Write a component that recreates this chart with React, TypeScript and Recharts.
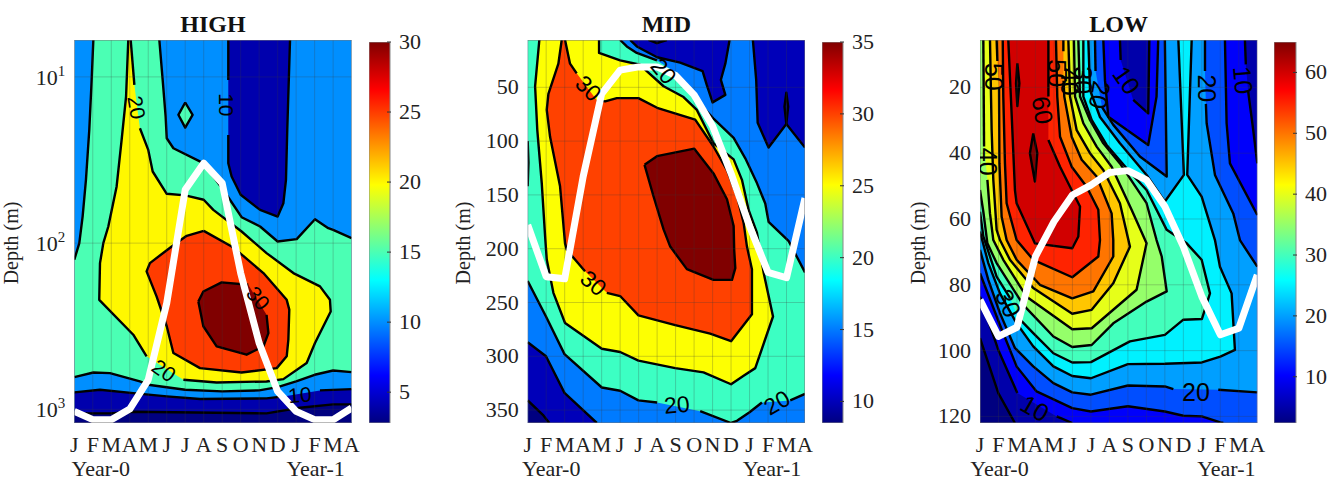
import React from 'react';
import { ScatterChart, Scatter, XAxis, YAxis, ComposedChart, Bar } from 'recharts';

type Pt = [number, number] | null;

const MONTHS = ['J', 'F', 'M', 'A', 'M', 'J', 'J', 'A', 'S', 'O', 'N', 'D', 'J', 'F', 'M', 'A'];
const MONTH_TICKS = MONTHS.map((_, i) => i);

// HIGH panel: second number is log10(depth)
const HIGH_TOP = 0.778;
const HIGH_BOTTOM = 3.082;
const HIGH_TICKS = [10, 100, 1000];
const HIGH_BAR_TICKS = [5, 10, 15, 20, 25, 30];
const HIGH_MLD: Pt[] = [[0, 3.012], [1, 3.062], [2, 3.062], [3, 2.998], [4, 2.822], [5, 2.361], [6, 1.679], [7, 1.519], [8, 1.639], [9, 2.18], [10, 2.601], [11, 2.892], [12, 3.012], [13, 3.062], [14, 3.062], [15, 2.992]];
const HIGH_10_TOP: Pt[] = [[8.33, 0.778], [8.33, 1.018], null, [8.33, 1.349], [8.33, 1.519], [8.51, 1.599], [9, 1.709], [10.05, 1.8], [11, 1.84], [11.31, 1.76], [11.45, 1.619], [11.52, 1.319], [11.67, 0.778]];
const HIGH_15: Pt[] = [[1.03, 0.778], [0.94, 1.018], [0.81, 1.319], [0.63, 1.619], [0.45, 1.84], [0.27, 2.0], [0, 2.1], [0, 2.806], [1.03, 2.778], [1.93, 2.782], [3.55, 2.832], [4, 2.852], [6, 2.882], [8, 2.892], [10, 2.886], [11, 2.866], [12, 2.832], [13, 2.792], [14, 2.766], [15, 2.776], [15, 1.97], [14, 1.92], [13.74, 1.91], [13.02, 1.856], [12.03, 1.976], [11, 1.99], [10.05, 1.9], [9.05, 1.844], [8.42, 1.739], [8.06, 1.679], [6.98, 1.519], [5.36, 1.429], [5, 1.369], [4.94, 1.238], [4.78, 1.018], [4.6, 0.778]];
const HIGH_15_DIAMOND: Pt[] = [[6, 1.154], [6.4, 1.228], [6, 1.305], [5.63, 1.228], [6, 1.154]];
const HIGH_20: Pt[] = [[2.92, 0.778], [2.8, 1.118], [2.56, 1.379], [2.29, 1.659], [1.84, 1.9], [1.57, 2.0], [1.39, 2.12], [1.35, 2.341], [3.19, 2.551], [3.91, 2.681], null, [5.9, 2.822], [7.7, 2.838], [10.4, 2.832], [11.31, 2.818], [12.57, 2.721], [13.02, 2.601], [13.87, 2.411], [13.83, 2.341], [13.29, 2.26], [11.85, 2.18], [10.4, 2.06], [9.05, 1.93], [7.52, 1.8], [7, 1.739], [6, 1.713], [5, 1.703], [4.24, 1.569], [4, 1.439], [3.55, 1.309], null, [3.25, 1.048], [3.05, 0.778]];
const HIGH_25: Pt[] = [[7, 1.926], [6.08, 1.956], [5.27, 2.02], [4.09, 2.12], [3.91, 2.17], [4.45, 2.32], [5, 2.5], [5.36, 2.661], [6.8, 2.752], [9.05, 2.778], [10.95, 2.752], [11.49, 2.681], [11.58, 2.581], [11.63, 2.4], [11.49, 2.341], [10.23, 2.18], [8.96, 2.06], [8.51, 2.02], [7, 1.926]];
const HIGH_30: Pt[] = [[6.71, 2.351], [6.98, 2.291], [7.97, 2.236], [9.41, 2.25], null, [10.4, 2.431], [10.5, 2.541], [10.23, 2.621], [9.32, 2.671], [7.7, 2.621], [6.98, 2.5], [6.71, 2.351]];
const HIGH_10_DEEP: Pt[] = [[0, 3.082], [0, 2.898], [1.39, 2.882], [3.19, 2.902], [5, 2.922], [6.8, 2.938], [10.4, 2.934], [11.31, 2.922], null, [13.29, 2.886], [15, 2.878], [15, 3.082]];
const HIGH_5_DEEP: Pt[] = [[0, 3.082], [0, 3.024], [1.93, 3.024], [3.19, 3.014], [10.4, 3.024], [12.2, 2.99], [14, 2.97], [15, 2.97], [15, 3.082]];
const HIGH_LABELS = [
  { m: 3.37, v: 1.184, text: '20', angle: 80 },
  { m: 8.24, v: 1.168, text: '10', angle: 90 },
  { m: 9.95, v: 2.331, text: '30', angle: 50 },
  { m: 4.85, v: 2.766, text: '20', angle: 35 },
  { m: 12.2, v: 2.912, text: '10', angle: -5 },
];

// MID panel: second number is depth in metres
const MID_TOP = 6;
const MID_BOTTOM = 362;
const MID_TICKS = [50, 100, 150, 200, 250, 300, 350];
const MID_BAR_TICKS = [10, 15, 20, 25, 30, 35];
const MID_MLD: Pt[] = [[0, 178], [1, 226], [2, 228], [3, 133], [4, 56], [5, 34], [6, 31], [7, 31], [8, 39], [9, 57], [10, 86], [11, 130], [12, 179], [13, 222], [14, 227], [15, 153]];
const MID_15_TOP: Pt[] = [[5.54, 6], [5.9, 12], [7, 22], [8.25, 27], [9.46, 35], [9.69, 48], [10, 64], [10.69, 57], [10.45, 43], [10.69, 28], [10.92, 6]];
const MID_15_RIGHT: Pt[] = [[12.18, 6], [12.36, 43], [12.44, 83], [13.03, 106], [13.99, 84], [15, 106], [15, 6]];
const MID_10_SLIVER: Pt[] = [[13.99, 84], [13.89, 68], [13.99, 55], [14.09, 68], [13.99, 84]];
const MID_10_TOP: Pt[] = [[6.53, 6], [6.99, 9], [7.53, 6]];
const MID_20: Pt[] = [[0, 6], [0, 230], [0.99, 263], [1.99, 298], [4.01, 329], [5, 332], [5.99, 341], [7, 343], null, [9.33, 351], [11, 362], [11.32, 360], [12, 352], [12.67, 343], null, [14.2, 341], [15, 335], [15, 222], [14.12, 193], [13.03, 175], [12.85, 158], [12.4, 139], [11.77, 116], [11.14, 97], [10.05, 79], [8.97, 59], [8.07, 37], null, [6.99, 25], [5.9, 18], [5.36, 12], [5, 6]];
const MID_20_EDGE: Pt[] = [[0, 100], [0.04, 120], [0, 142]];
const MID_25: Pt[] = [[0.63, 6], [0.4, 49], [0.52, 90], [0.76, 139], [0.94, 188], [1.03, 210], [1.39, 241], [2.02, 269], [4.01, 293], [5, 296], [5.99, 304], [7.98, 311], [9.51, 315], [11, 326], [11.68, 318], [12.31, 311], [13.27, 263], [12.76, 222], [12.4, 185], [11.95, 164], [11.59, 136], [11.14, 117], [10.05, 102], [9.15, 71], [8.43, 59], [7.35, 49], [6.44, 35], [6.08, 29], [5, 25], [3.86, 18], [3.86, 6]];
const MID_30: Pt[] = [[1.84, 6], [1.66, 28], [1.12, 56], [1.03, 71], [1.21, 96], [1.75, 142], [2.02, 195], [2.11, 201], [3.1, 221], null, [4.28, 241], [5, 244], [5.99, 262], [7.98, 271], [9.87, 279], [11, 286], [12.13, 261], [12.13, 219], [11.86, 198], [11.68, 176], [11.32, 151], [10.78, 127], [10.05, 105], [9.06, 80], [7, 69], [5.99, 60], [4.82, 60], [4.19, 63], [3.74, 62], null, [2.65, 37], [2.29, 28], [2.02, 6]];
const MID_35: Pt[] = [[6.32, 122], [6.99, 114], [9.01, 107], [10.05, 130], [10.78, 154], [11.14, 179], [11.17, 201], [11.23, 218], [11.05, 229], [10.05, 229], [8.61, 219], [7.71, 198], [7.35, 182], [6.8, 151], [6.32, 122]];
const MID_15_DEEP: Pt[] = [[0, 362], [0, 287], [0.99, 300], [1.99, 334], [3.74, 362]];
const MID_10_DEEP: Pt[] = [[0, 362], [0, 341], [0.85, 355], [1.17, 362]];
const MID_LABELS = [
  { m: 3.29, v: 51, text: '30', angle: 45 },
  { m: 3.56, v: 232, text: '30', angle: 40 },
  { m: 8.07, v: 345, text: '20', angle: -5 },
  { m: 13.48, v: 343, text: '20', angle: -30 },
  { m: 7.35, v: 35, text: '20', angle: 50 },
];

// LOW panel: second number is depth in metres
const LOW_TOP = 5.6;
const LOW_BOTTOM = 122;
const LOW_TICKS = [20, 40, 60, 80, 100, 120];
const LOW_BAR_TICKS = [10, 20, 30, 40, 50, 60];
const LOW_MLD: Pt[] = [[0, 84.6], [1, 95.7], [2, 92.9], [3, 71.4], [4, 60.8], [5, 52.7], [6, 49.7], [7, 45.9], [8, 45.3], [9, 48.1], [10, 56.2], [11, 68.4], [12, 83.6], [13, 95.2], [14, 93.2], [15, 77]];
const LOW_5: Pt[] = [[0, 96.2], [0.99, 112.9], [1.89, 122], [0, 122]];
const LOW_10: Pt[] = [[0, 5.6], [0, 83.6], [0.99, 99.8], [2.02, 112.9], null, [4.15, 120], [4.99, 122], [15, 122], [15, 43.1], [14.78, 33], [14.5, 21], null, [14.38, 13], [14.33, 5.6], [9.16, 5.6], [9.1, 27.9], [8.29, 23.8], null, [7.61, 11.7], [7.57, 5.6]];
const LOW_15: Pt[] = [[0, 5.6], [0, 76.5], [1.08, 92.2], [1.98, 104.8], [3.06, 112.4], [4.99, 117.5], [6, 118.5], [8, 116.9], [10, 118.5], [11, 119.8], [12, 120], [13, 121.8], [13.16, 122], [15, 122], [15, 58.8], [13.52, 43.1], [13.34, 30.9], [13.25, 5.6], [9.64, 5.6], [9.55, 22.8], [9.1, 37.5], [6.94, 28.9], [6.76, 17.8], [6.67, 5.6]];
const LOW_20: Pt[] = [[0, 5.6], [0, 69.4], [0.45, 78.5], [1.08, 88.6], [1.89, 99.2], [2.88, 104.8], [3.97, 109.9], [4.99, 112.7], [6, 113.4], [8, 110.6], [10, 110.9], [10.46, 111.7], null, [12.89, 111.9], [15, 112.7], [15, 74.5], [14.06, 66.4], [13.7, 58.3], [12.71, 46.6], [12.26, 30.9], [12.22, 25], null, [12.17, 15], [12.17, 5.6], [10, 5.6], [10.1, 47.1], [8.65, 41], [7.21, 31.4], [6.6, 26], null, [6.25, 15], [6.22, 5.6]];
const LOW_25: Pt[] = [[0, 5.6], [0, 63.8], [0.45, 73.4], [1.08, 82.6], [1.98, 91.7], [2.88, 98.7], [3.97, 104.8], [4.99, 107.7], [6, 108.4], [8, 104.1], [10, 104], [12, 103.6], [13, 101.8], [13.79, 99.8], [13.61, 82.6], [12.98, 74.5], [12.71, 66.4], [11.99, 53.2], [11.21, 46.6], [11.45, 5.6], [10.73, 5.6], [11.03, 46.6], [10, 54.7], [9.01, 46.6], [7.57, 37], [6.49, 29], [5.95, 20.8], [5.86, 5.6]];
const LOW_30: Pt[] = [[0, 5.6], [0, 57.8], [0.18, 65.3], [0.9, 77.5], [1.62, 84], null, [2.07, 90], [2.88, 94.7], [3.97, 100.8], [4.99, 103.6], [6, 103.5], [8.11, 97.2], [10, 95.2], [11, 90.6], [12, 90.4], [12.44, 82.6], [11.99, 72.4], [11.18, 67.4], [10.1, 63.3], [9.01, 51.2], [7.93, 44.6], [6.85, 37.5], [6.04, 29.9], [5.59, 22.8], [5.59, 5.6]];
const LOW_35: Pt[] = [[0, 5.6], [0, 51.2], [0.18, 57.8], [0.4, 67.4], [0.9, 73.4], [2.34, 86.1], [3.97, 95.7], [4.99, 98.9], [6.04, 98.3], [7.21, 91.7], [9.01, 85.1], [10.1, 82], [9.83, 71.4], [9.55, 66.4], [9.01, 55.2], [7.57, 43.1], [6.67, 37], [5.95, 29.9], [5.41, 22.8], [5.32, 5.6]];
const LOW_40: Pt[] = [[0.18, 5.6], [0.22, 38], null, [0.4, 48.1], [0.54, 58.3], [0.72, 66.4], [1.26, 72.4], [2.52, 83.6], [4.99, 93.5], [6.04, 93.2], [8.47, 81.5], [9.01, 67.4], [8.2, 57.2], [7.12, 44.1], [6.31, 38], [5.59, 30.9], [5.14, 22.8], [5.08, 5.6]];
const LOW_45: Pt[] = [[0.54, 5.6], [0.63, 33], [0.72, 48.1], [0.9, 63.3], [1.08, 66.4], [1.62, 72.4], [2.88, 81], [4.99, 88.8], [6.04, 87.6], [7.21, 79.5], [8.11, 68.4], [7.57, 55.2], [6.67, 45.1], [5.95, 40], [5.23, 33], [4.87, 22.8], [4.78, 5.6]];
const LOW_50: Pt[] = [[0.9, 5.6], [0.94, 12], null, [1.03, 20], [1.05, 43.1], [1.17, 59.3], [1.44, 66.4], [1.98, 72.4], [3.24, 80], [4.99, 84.1], [6.13, 82], [7.21, 71.4], [7.21, 66.4], [7.12, 58.3], [6.31, 47.1], [5.5, 42], [4.96, 35], [4.56, 22.8], [4.52, 18], null, [4.51, 9], [4.51, 5.6]];
const LOW_55: Pt[] = [[1.23, 5.6], [1.26, 22.8], [1.35, 43.1], [1.44, 55.2], [1.98, 66.4], [2.88, 72.4], [4.99, 77.7], [6.4, 71.4], [6.49, 66.4], [6.4, 57.2], [5.77, 50.2], [4.96, 44.1], [4.33, 35], [4.18, 22.8], [4.11, 5.6]];
const LOW_60: Pt[] = [[1.53, 5.6], [1.71, 27.9], [1.89, 51.2], [1.98, 55.2], [2.97, 67.4], [4.99, 68.9], [5.32, 65.3], [5.41, 56.2], [4.87, 50.2], [4.33, 44.1], [3.7, 36], null, [3.7, 22.8], [3.7, 5.6]];
const LOW_65_A: Pt[] = [[2.02, 12.7], [1.95, 18.8], [2.02, 25.7], [2.13, 18.8], [2.02, 12.7]];
const LOW_65_B: Pt[] = [[2.88, 34], [2.7, 40], [2.97, 48.6], [3.1, 40], [2.88, 34]];
const LOW_LABELS = [
  { m: 0.78, v: 16.8, text: '50', angle: 90 },
  { m: 0.45, v: 42.6, text: '40', angle: 90 },
  { m: 3.39, v: 26.9, text: '60', angle: 80 },
  { m: 4.15, v: 15.7, text: '50', angle: 90 },
  { m: 4.87, v: 18.3, text: '40', angle: 90 },
  { m: 5.55, v: 17.8, text: '30', angle: 90 },
  { m: 6.49, v: 22.3, text: '20', angle: 100 },
  { m: 7.93, v: 17.8, text: '10', angle: 55 },
  { m: 12.26, v: 20.3, text: '20', angle: 90 },
  { m: 14.24, v: 17.8, text: '10', angle: 85 },
  { m: 1.53, v: 85.6, text: '30', angle: 65 },
  { m: 2.97, v: 117.5, text: '10', angle: 30 },
  { m: 11.68, v: 112.7, text: '20', angle: 0 },
];

const PLOT_WIDTH = 277.3;
const PLOT_TOP = 40;
const PLOT_BOTTOM = 423;
const SERIF = '"Liberation Serif", serif';
const SANS = '"Liberation Sans", sans-serif';

const jet = (f: number) => {
  const ch = (v: number) => Math.round(Math.max(0, Math.min(1, v)) * 255);
  return `rgb(${ch(Math.min(4 * f - 1.5, 4.5 - 4 * f))},${ch(Math.min(4 * f - 0.5, 3.5 - 4 * f))},${ch(Math.min(4 * f + 0.5, 2.5 - 4 * f))})`;
};

const JET_STOPS = [0, 0.125, 0.375, 0.625, 0.875, 1];

const PANELS = [
  {
    id: 'high', title: 'HIGH', chartLeft: 0, plotLeft: 74.3, depthX: 18, log: true,
    top: HIGH_TOP, bottom: HIGH_BOTTOM, ticks: HIGH_TICKS, mld: HIGH_MLD, labels: HIGH_LABELS, labelSize: 21,
    yearDx: [8, 1], barLeft: 369, barWidth: 21, barMin: 2.8, barMax: 30, barTicks: HIGH_BAR_TICKS, baseLevel: 10,
    rings: [
      [4, HIGH_10_TOP], [15, HIGH_15], [15, HIGH_15_DIAMOND], [20, HIGH_20], [25, HIGH_25], [30, HIGH_30],
      [4, HIGH_10_DEEP], [2.8, HIGH_5_DEEP],
    ],
  },
  {
    id: 'mid', title: 'MID', chartLeft: 452, plotLeft: 527.7, depthX: 470, log: false,
    top: MID_TOP, bottom: MID_BOTTOM, ticks: MID_TICKS, mld: MID_MLD, labels: MID_LABELS, labelSize: 23,
    yearDx: [5, 4], barLeft: 821.7, barWidth: 21, barMin: 8.5, barMax: 35, barTicks: MID_BAR_TICKS, baseLevel: 15,
    rings: [
      [10, MID_15_TOP], [10, MID_15_RIGHT], [8.5, MID_10_SLIVER], [8.5, MID_10_TOP], [20, MID_20], [15, MID_20_EDGE],
      [25, MID_25], [30, MID_30], [35, MID_35], [10, MID_15_DEEP], [8.5, MID_10_DEEP],
    ],
  },
  {
    id: 'low', title: 'LOW', chartLeft: 905, plotLeft: 980, depthX: 925, log: false,
    top: LOW_TOP, bottom: LOW_BOTTOM, ticks: LOW_TICKS, mld: LOW_MLD, labels: LOW_LABELS, labelSize: 25,
    yearDx: [1, 6], barLeft: 1274.3, barWidth: 22, barMin: 2.4, barMax: 65, barTicks: LOW_BAR_TICKS, baseLevel: 5,
    rings: [
      [2.4, LOW_5], [10, LOW_10], [15, LOW_15], [20, LOW_20], [25, LOW_25], [30, LOW_30], [35, LOW_35], [40, LOW_40],
      [45, LOW_45], [50, LOW_50], [55, LOW_55], [60, LOW_60], [65, LOW_65_A], [65, LOW_65_B],
    ],
  },
];

const noDot = () => <g />;

const fillPath = (fill: string) => (props: any) => (
  <path d={`M${props.points.map((p: any) => `${p.x},${p.y}`).join('L')}Z`} fill={fill} stroke="none" />
);

const strokePath = (stroke: string, width: number) => (props: any) => (
  <path
    d={`M${props.points.map((p: any) => `${p.x},${p.y}`).join('L')}`}
    fill="none"
    stroke={stroke}
    strokeWidth={width}
    strokeLinejoin="round"
  />
);

// pen lifts at nulls and along the frame of the plot
const splitStrokes = (ring: Pt[], top: number, bottom: number) => {
  const onSame = (a: [number, number], b: [number, number]) =>
    (a[0] === b[0] && (a[0] === 0 || a[0] === 15)) || (a[1] === b[1] && (a[1] === top || a[1] === bottom));
  const parts: [number, number][][] = [];
  let cur: [number, number][] = [];
  ring.forEach((p) => {
    if (!p) {
      if (cur.length > 1) parts.push(cur);
      cur = [];
      return;
    }
    if (cur.length && onSame(cur[cur.length - 1], p)) {
      if (cur.length > 1) parts.push(cur);
      cur = [];
    }
    cur.push(p);
  });
  if (cur.length > 1) parts.push(cur);
  return parts;
};

function MonthTick({ x, payload, dx }: any) {
  const i = payload.value;
  return (
    <g fontFamily={SERIF} fontSize={22} fill="#222">
      <text x={x} y={PLOT_BOTTOM + 29} textAnchor="middle">{MONTHS[i]}</text>
      {i === 1 && <text x={x + dx[0]} y={PLOT_BOTTOM + 53} textAnchor="middle">Year-0</text>}
      {i === 13 && <text x={x + dx[1]} y={PLOT_BOTTOM + 53} textAnchor="middle">Year-1</text>}
    </g>
  );
}

function DepthTick({ x, y, payload, log }: any) {
  if (log) {
    return (
      <text x={x} y={y + 8} textAnchor="end" fontFamily={SERIF} fontSize={22} fill="#222">
        10<tspan dy={-9} fontSize={15}>{Math.round(Math.log10(payload.value))}</tspan>
      </text>
    );
  }
  return (
    <text x={x} y={y + 7} textAnchor="end" fontFamily={SERIF} fontSize={22} fill="#222">{payload.value}</text>
  );
}

function BarTick({ x, y, payload }: any) {
  return (
    <g>
      <line x1={x - 12} x2={x - 8} y1={y} y2={y} stroke="#333" strokeWidth={1} />
      <text x={x} y={y + 7} fontFamily={SERIF} fontSize={22} fill="#222">{payload.value}</text>
    </g>
  );
}

function Panel({ p }: { p: (typeof PANELS)[number] }) {
  const toDepth = (v: number) => (p.log ? 10 ** v : v);
  const rows = (pts: Pt[]) =>
    pts.filter(Boolean).map((q: any) => ({ x: q[0], y: toDepth(q[1]) }));
  const color = (level: number) => jet((level - p.barMin) / (p.barMax - p.barMin));
  const corners: Pt[] = [[0, p.top], [15, p.top], [15, p.bottom], [0, p.bottom], [0, p.top]];
  const gridY: Pt[][] = p.ticks.map((t) => [[0, p.log ? Math.log10(t) : t], [15, p.log ? Math.log10(t) : t]]);
  const gridX: Pt[][] = MONTH_TICKS.slice(1, -1).map((m) => [[m, p.top], [m, p.bottom]]);
  const rings = p.rings as [number, Pt[]][];
  const labelRows = p.labels.map((l) => ({ x: l.m, y: toDepth(l.v), text: l.text, angle: l.angle }));

  return (
    <>
      <div style={{ position: 'absolute', left: p.chartLeft, top: 0 }}>
        <ScatterChart
          width={p.plotLeft - p.chartLeft + PLOT_WIDTH + 30}
          height={482}
          margin={{ left: 0, right: 30, top: PLOT_TOP, bottom: 0 }}
        >
          <XAxis
            type="number"
            dataKey="x"
            domain={[0, 15]}
            allowDataOverflow
            ticks={MONTH_TICKS}
            interval={0}
            axisLine={false}
            tickLine={false}
            height={482 - PLOT_BOTTOM}
            tick={(t: any) => <MonthTick {...t} dx={p.yearDx} />}
          />
          <YAxis
            type="number"
            dataKey="y"
            reversed
            scale={p.log ? 'log' : 'linear'}
            domain={[toDepth(p.top), toDepth(p.bottom)]}
            allowDataOverflow
            ticks={p.ticks}
            interval={0}
            axisLine={false}
            tickLine={false}
            tickSize={7}
            width={p.plotLeft - p.chartLeft}
            tick={(t: any) => <DepthTick {...t} log={p.log} />}
            label={{
              content: () => (
                <text
                  transform={`translate(${p.depthX - p.chartLeft},243) rotate(-90)`}
                  textAnchor="middle"
                  fontFamily={SERIF}
                  fontSize={20}
                  fill="#222"
                >
                  Depth (m)
                </text>
              ),
            }}
          />
          <Scatter data={rows(corners)} shape={noDot} line={fillPath(color(p.baseLevel))} isAnimationActive={false} />
          {rings.map(([level, ring], i) => (
            <Scatter key={`f${i}`} data={rows(ring)} shape={noDot} line={fillPath(color(level))} isAnimationActive={false} />
          ))}
          {rings.flatMap(([, ring], i) =>
            splitStrokes(ring, p.top, p.bottom).map((part, j) => (
              <Scatter key={`s${i}-${j}`} data={rows(part)} shape={noDot} line={strokePath('#000', 2.4)} isAnimationActive={false} />
            )),
          )}
          {[...gridX, ...gridY].map((g, i) => (
            <Scatter key={`g${i}`} data={rows(g)} shape={noDot} line={strokePath('rgba(60,60,60,0.25)', 1)} isAnimationActive={false} />
          ))}
          <Scatter data={rows(p.mld)} shape={noDot} line={strokePath('#fff', 7)} isAnimationActive={false} />
          <Scatter data={rows(corners)} shape={noDot} line={strokePath('#777', 1)} isAnimationActive={false} />
          <Scatter
            data={labelRows}
            isAnimationActive={false}
            line={false}
            shape={(s: any) => (
              <text
                transform={`translate(${s.cx},${s.cy}) rotate(${s.payload.angle})`}
                textAnchor="middle"
                dominantBaseline="central"
                fontFamily={SANS}
                fontSize={p.labelSize}
                fill="#000"
              >
                {s.payload.text}
              </text>
            )}
          />
        </ScatterChart>
      </div>
      <div style={{ position: 'absolute', left: p.barLeft, top: 0 }}>
        <ComposedChart
          width={p.barWidth + 44}
          height={482}
          data={[{ name: p.id, range: [p.barMin, p.barMax] }]}
          margin={{ left: 0, right: 0, top: 42, bottom: 482 - PLOT_BOTTOM }}
          barCategoryGap={0}
        >
          <defs>
            <linearGradient id={`jet-${p.id}`} x1="0" y1="1" x2="0" y2="0">
              {JET_STOPS.map((s) => (
                <stop key={s} offset={s} stopColor={jet(s)} />
              ))}
            </linearGradient>
          </defs>
          <XAxis dataKey="name" hide />
          <YAxis
            orientation="right"
            type="number"
            domain={[p.barMin, p.barMax]}
            allowDataOverflow
            ticks={p.barTicks}
            interval={0}
            width={44}
            axisLine={false}
            tickLine={false}
            tickSize={7}
            tick={(t: any) => <BarTick {...t} />}
          />
          <Bar dataKey="range" fill={`url(#jet-${p.id})`} stroke="#888" isAnimationActive={false} />
        </ComposedChart>
      </div>
      <div
        style={{
          position: 'absolute',
          left: p.plotLeft + PLOT_WIDTH / 2 - 60,
          width: 120,
          top: 12,
          textAlign: 'center',
          fontFamily: SERIF,
          fontWeight: 'bold',
          fontSize: 24,
          lineHeight: '24px',
          color: '#111',
        }}
      >
        {p.title}
      </div>
    </>
  );
}

export default function App() {
  return (
    <div style={{ position: 'absolute', left: 0, top: 0, width: 1338, height: 482, background: '#fff', overflow: 'hidden' }}>
      {PANELS.map((p) => (
        <Panel key={p.id} p={p} />
      ))}
    </div>
  );
}
